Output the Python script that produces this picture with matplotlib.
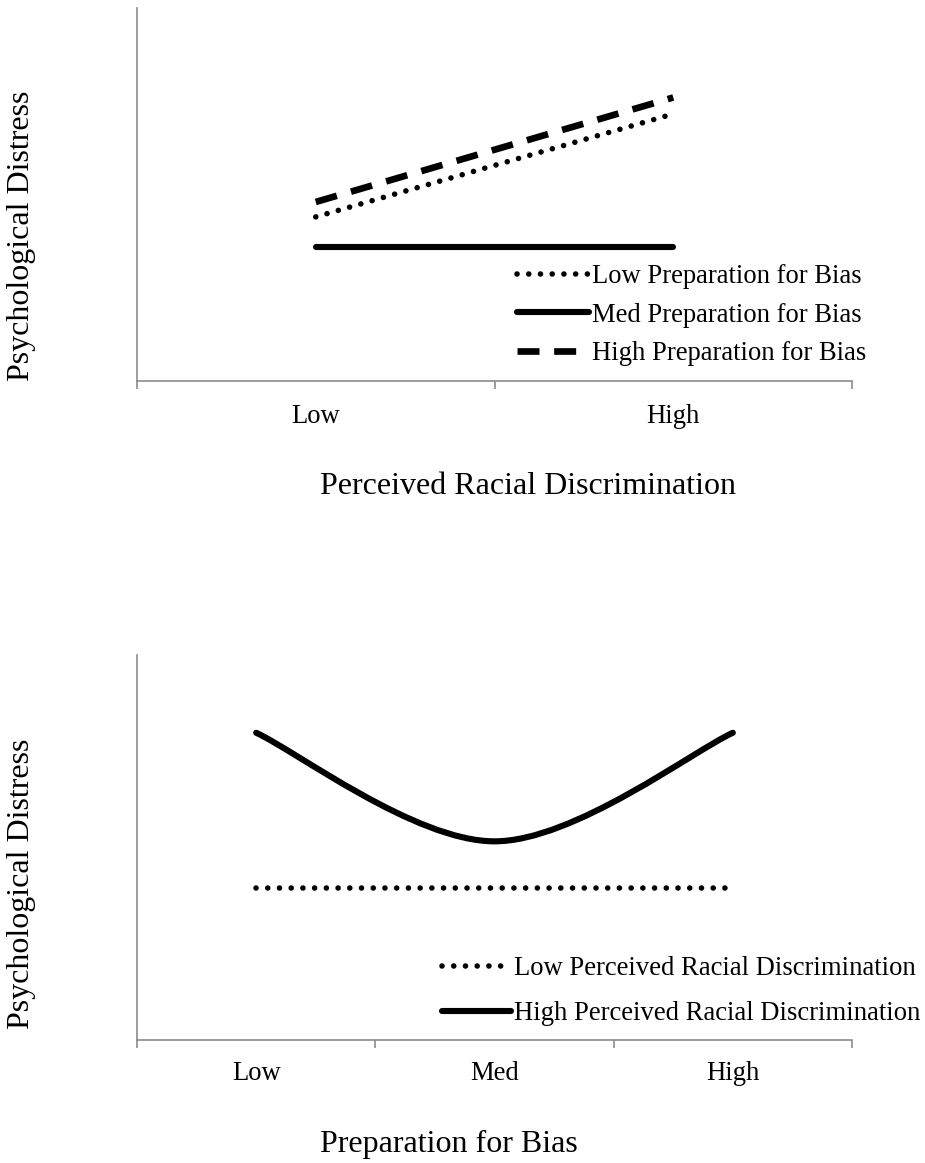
import numpy as np
import matplotlib
matplotlib.use('Agg')
import matplotlib.pyplot as plt
from matplotlib.path import Path
from matplotlib.patches import PathPatch
from matplotlib.lines import Line2D

plt.rcParams['font.family'] = ['Liberation Serif', 'DejaVu Serif']

# panel 1: distress by perceived discrimination, one line per preparation level
disc_levels = ['Low', 'High']
low_prep = [2.20, 3.58]
med_prep = [1.80, 1.80]
high_prep = [2.40, 3.80]
prep_labels = ['Low Preparation for Bias', 'Med Preparation for Bias', 'High Preparation for Bias']

# panel 2: distress by preparation, one line per discrimination level
prep_levels = ['Low', 'Med', 'High']
low_disc = [1.97, 1.97, 1.97]
high_disc = [3.99, 2.58, 3.99]
disc_labels = ['Low Perceived Racial Discrimination', 'High Perceived Racial Discrimination']

W, H = 925, 1163
fig = plt.figure(figsize=(W / 100, H / 100), dpi=100)

def px_box(left, top, right, bottom):
    return [left / W, 1 - bottom / H, (right - left) / W, (bottom - top) / H]

dotted = dict(color='black', lw=4.0, linestyle=(0, (0.01, 2.1)), dash_capstyle='round')
solid = dict(color='black', lw=4.4, solid_capstyle='round')
dashed = dict(color='black', lw=4.8, linestyle=(0, (3.3, 2.2)), dash_capstyle='butt')

def style_axes(ax, ncat, pad):
    ax.set_xlim(0, ncat)
    ax.set_ylim(0, 5)
    for s in ['top', 'right']:
        ax.spines[s].set_visible(False)
    for s in ['left', 'bottom']:
        ax.spines[s].set_color('#8c8c8c')
        ax.spines[s].set_linewidth(1.2)
    ax.set_yticks([])
    ax.set_xticks(np.arange(ncat + 1))
    ax.set_xticklabels([])
    ax.tick_params(axis='x', which='major', direction='out', length=6, width=1.2, color='#8c8c8c')
    ax.set_xticks(np.arange(ncat) + 0.5, minor=True)
    ax.tick_params(axis='x', which='minor', length=0, pad=pad, labelsize=19.2)

def smooth_path(xs, ys):
    # excel-style smoothed line: cubic bezier through the points
    pts = np.column_stack([xs, ys])
    n = len(pts)
    verts = [pts[0]]
    codes = [Path.MOVETO]
    for i in range(n - 1):
        p0 = pts[max(i - 1, 0)]
        p1 = pts[i]
        p2 = pts[i + 1]
        p3 = pts[min(i + 2, n - 1)]
        verts += [p1 + (p2 - p0) / 6, p2 - (p3 - p1) / 6, p2]
        codes += [Path.CURVE4] * 3
    return Path(verts, codes)

# top panel
ax1 = fig.add_axes(px_box(137, 8, 852, 381))
style_axes(ax1, len(disc_levels), 16.5)
x1 = np.arange(len(disc_levels)) + 0.5
ax1.plot(x1, low_prep, **dotted)
ax1.plot(x1, med_prep, **solid)
ax1.plot(x1, high_prep, **dashed)
ax1.set_xticklabels(disc_levels, minor=True)
h1 = [Line2D([], [], **dotted), Line2D([], [], **solid), Line2D([], [], **dashed)]
fig.legend(h1, prep_labels, loc='center left', bbox_to_anchor=(517 / W, 1 - 315 / H),
           frameon=False, fontsize=19.2, handlelength=2.7, handletextpad=0.1,
           labelspacing=0.5, borderpad=0, borderaxespad=0)

# bottom panel
ax2 = fig.add_axes(px_box(137, 655, 852, 1040))
style_axes(ax2, len(prep_levels), 15)
x2 = np.arange(len(prep_levels)) + 0.5
ax2.plot(x2, low_disc, **dotted)
ax2.add_patch(PathPatch(smooth_path(x2, high_disc), fill=False, edgecolor='black',
                        lw=4.4, capstyle='round'))
ax2.set_xticklabels(prep_levels, minor=True)
h2 = [Line2D([], [], **dotted), Line2D([], [], **solid)]
fig.legend(h2, disc_labels, loc='center left', bbox_to_anchor=(442 / W, 1 - 991 / H),
           frameon=False, fontsize=19.2, handlelength=2.6, handletextpad=0.1,
           labelspacing=0.75, borderpad=0, borderaxespad=0)

# axis titles
for yc in [236, 884]:
    fig.text(22 / W, 1 - yc / H, 'Psychological Distress', rotation=90,
             ha='center', va='center', fontsize=23)
fig.text(320 / W, 1 - 487 / H, 'Perceived Racial Discrimination', ha='left', va='center', fontsize=23)
fig.text(320 / W, 1 - 1144 / H, 'Preparation for Bias', ha='left', va='center', fontsize=23)

fig.savefig('out.png', dpi=100)
